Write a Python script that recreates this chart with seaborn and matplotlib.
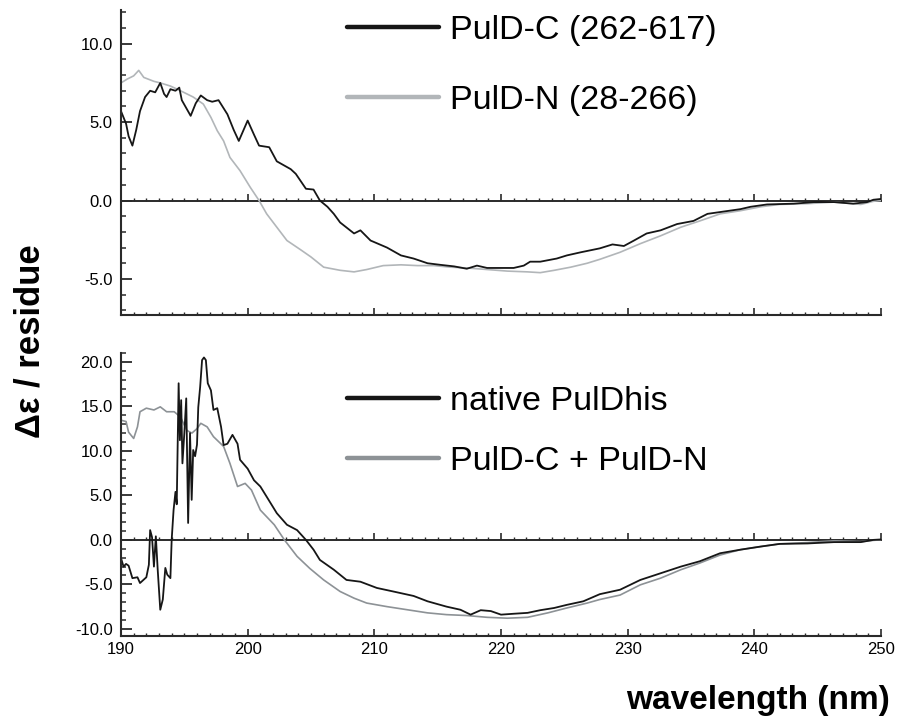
import numpy as np
import pandas as pd
import matplotlib
matplotlib.use("Agg")
import matplotlib.pyplot as plt
from matplotlib.lines import Line2D
from matplotlib.ticker import MultipleLocator, FormatStrFormatter
import seaborn as sns

# ---- CD spectra (delta epsilon per residue vs wavelength, nm) ----
# PulD-C (262-617)
wl_c = [190.0, 190.2, 190.4, 190.6, 190.9, 191.2, 191.5, 191.9, 192.3, 192.7, 193.1, 193.4, 193.6,
        193.9, 194.3, 194.6, 194.8, 195.5, 195.9, 196.3, 196.8, 197.2, 197.7, 198.4, 198.9, 199.3,
        200.0, 200.5, 200.9, 201.7, 202.3, 203.4, 203.8, 204.6, 205.2, 205.7, 206.3, 206.8, 207.3,
        208.4, 208.9, 209.7, 211.0, 212.1, 213.1, 214.2, 215.2, 216.3, 217.3, 218.1, 218.9, 220.0,
        221.0, 221.8, 222.3, 223.1, 224.4, 225.2, 226.3, 227.8, 228.8, 229.7, 230.5, 231.5, 232.6,
        233.9, 235.2, 236.3, 237.6, 238.9, 239.7, 241.0, 243.1, 244.7, 246.3, 247.8, 248.9, 249.4, 250.0]
de_c = [5.7, 5.3, 4.9, 4.1, 3.5, 4.5, 5.7, 6.6, 7.0, 6.9, 7.5, 6.8, 6.6,
        7.1, 7.0, 7.2, 6.4, 5.4, 6.2, 6.7, 6.4, 6.3, 6.4, 5.5, 4.5, 3.8,
        5.1, 4.2, 3.5, 3.4, 2.5, 2.0, 1.7, 0.75, 0.7, 0.0, -0.4, -0.85, -1.4,
        -2.1, -1.9, -2.55, -3.0, -3.5, -3.7, -4.0, -4.1, -4.2, -4.35, -4.15, -4.3, -4.3,
        -4.3, -4.15, -3.9, -3.9, -3.7, -3.5, -3.3, -3.05, -2.8, -2.9, -2.55, -2.1, -1.9,
        -1.5, -1.3, -0.85, -0.7, -0.55, -0.4, -0.25, -0.2, -0.1, -0.1, -0.2, -0.1, 0.05, 0.1]

# PulD-N (28-266)
wl_n = [190.0, 190.5, 191.0, 191.4, 191.8, 192.6, 193.1, 193.9, 194.7, 195.7, 196.5, 197.1, 197.6,
        198.1, 198.6, 199.4, 200.2, 200.9, 201.5, 202.3, 203.1, 204.2, 205.0, 206.0, 207.3, 208.4,
        209.4, 210.7, 212.1, 213.4, 214.7, 216.0, 217.3, 218.9, 220.5, 222.1, 223.1, 224.2, 225.5,
        226.8, 227.8, 229.4, 231.0, 232.6, 234.2, 235.7, 237.3, 238.9, 240.5, 242.0, 244.2, 246.3,
        248.4, 249.4, 250.0]
de_n = [7.5, 7.75, 7.95, 8.3, 7.85, 7.6, 7.5, 7.3, 7.0, 6.6, 6.15, 5.3, 4.45,
        3.8, 2.75, 1.9, 0.85, 0.0, -0.85, -1.7, -2.55, -3.15, -3.6, -4.25, -4.45, -4.55,
        -4.4, -4.15, -4.1, -4.15, -4.15, -4.25, -4.3, -4.4, -4.5, -4.55, -4.6, -4.45, -4.25,
        -4.0, -3.75, -3.3, -2.75, -2.25, -1.7, -1.3, -0.85, -0.65, -0.4, -0.25, -0.2, -0.1,
        -0.25, -0.05, 0.0]

# native PulDhis
wl_h = [190.0, 190.2, 190.4, 190.6, 190.9, 191.3, 191.5, 192.0, 192.2, 192.3, 192.45, 192.6, 192.75,
        192.9, 193.1, 193.3, 193.5, 193.65, 193.9, 194.0, 194.15, 194.3, 194.4, 194.55, 194.65,
        194.75, 194.85, 195.0, 195.15, 195.3, 195.45, 195.58, 195.7, 195.85, 196.0, 196.1, 196.25,
        196.4, 196.55, 196.7, 196.85, 197.1, 197.3, 197.6, 197.9, 198.1, 198.4, 198.8, 199.2, 199.4,
        200.0, 200.5, 201.0, 201.5, 202.3, 203.1, 203.9, 204.6, 205.2, 205.7, 206.8, 207.8, 208.9,
        210.2, 211.5, 213.1, 214.2, 215.7, 216.8, 217.6, 218.4, 219.2, 220.0, 221.0, 222.1, 223.1,
        224.2, 225.2, 226.5, 227.8, 229.4, 231.0, 232.6, 234.2, 235.7, 237.3, 238.9, 240.5, 242.0,
        244.2, 246.3, 248.4, 249.4, 250.0]
de_h = [-2.05, -3.0, -2.7, -2.9, -4.3, -4.2, -4.85, -4.2, -2.8, 1.1, 0.3, -3.0, 0.4,
        -3.4, -7.85, -6.7, -3.15, -3.9, -4.3, 0.0, 3.35, 5.4, 4.0, 17.6, 11.2,
        15.7, 8.6, 12.0, 15.9, 1.9, 12.0, 4.5, 10.1, 9.4, 10.7, 14.9, 17.2,
        20.2, 20.5, 20.2, 17.6, 16.8, 14.6, 14.8, 12.7, 10.65, 10.8, 11.8, 10.8, 9.0,
        8.0, 6.7, 6.0, 4.85, 3.0, 1.7, 1.1, 0.0, -1.1, -2.25, -3.35, -4.5, -4.7,
        -5.4, -5.8, -6.3, -6.9, -7.5, -7.85, -8.4, -7.9, -8.0, -8.4, -8.3, -8.2, -7.9,
        -7.65, -7.3, -6.9, -6.1, -5.6, -4.5, -3.75, -3.0, -2.4, -1.5, -1.1, -0.75, -0.45,
        -0.4, -0.25, -0.25, 0.0, 0.05]

# PulD-C + PulD-N mixture
wl_m = [190.0, 190.4, 190.6, 191.0, 191.3, 191.5, 192.0, 192.6, 193.1, 193.6, 194.2, 194.7, 195.2,
        195.6, 196.0, 196.3, 196.8, 197.3, 198.1, 198.6, 199.2, 199.8, 200.3, 201.0, 202.1, 202.9,
        203.9, 204.9, 206.0, 207.3, 208.4, 209.4, 211.0, 212.6, 214.2, 215.7, 217.3, 218.9, 220.5,
        222.1, 223.7, 225.2, 226.8, 227.8, 229.4, 231.0, 232.6, 234.2, 235.7, 237.3, 238.9, 240.5,
        242.0, 244.2, 246.3, 248.4, 249.4, 250.0]
de_m = [13.45, 13.3, 12.1, 11.4, 12.7, 14.4, 14.8, 14.6, 14.95, 14.4, 14.4, 13.8, 12.3,
        12.0, 12.5, 13.1, 12.7, 11.6, 10.5, 8.6, 6.0, 6.35, 5.6, 3.35, 1.7, 0.0,
        -1.85, -3.2, -4.5, -5.8, -6.55, -7.1, -7.5, -7.85, -8.2, -8.4, -8.5, -8.7, -8.8,
        -8.7, -8.2, -7.65, -7.1, -6.7, -6.2, -5.05, -4.3, -3.35, -2.6, -1.7, -1.1, -0.75,
        -0.45, -0.3, -0.1, -0.2, -0.05, 0.0]

top_labels = ["PulD-C (262-617)", "PulD-N (28-266)"]
bottom_labels = ["native PulDhis", "PulD-C + PulD-N"]
x_ticks = [190, 200, 210, 220, 230, 240, 250]

top_df = pd.concat([
    pd.DataFrame({"wavelength": wl_c, "de": de_c, "sample": top_labels[0]}),
    pd.DataFrame({"wavelength": wl_n, "de": de_n, "sample": top_labels[1]}),
])
bottom_df = pd.concat([
    pd.DataFrame({"wavelength": wl_h, "de": de_h, "sample": bottom_labels[0]}),
    pd.DataFrame({"wavelength": wl_m, "de": de_m, "sample": bottom_labels[1]}),
])

sns.set_theme(style="ticks")
plt.rcParams["font.family"] = ["Liberation Sans", "DejaVu Sans"]
plt.rcParams["axes.unicode_minus"] = False
plt.rcParams["text.color"] = "black"
plt.rcParams["axes.labelcolor"] = "black"

W, H = 897, 722
fig = plt.figure(figsize=(W / 100, H / 100), dpi=100)
fig.patch.set_facecolor("white")


def px_axes(x0, y0, x1, y1):
    return fig.add_axes([x0 / W, 1 - y1 / H, (x1 - x0) / W, (y1 - y0) / H])


ax_top = px_axes(121, 10, 881, 315)
ax_bot = px_axes(121, 353, 881, 636)

panels = [
    (ax_top, top_df, top_labels, {top_labels[0]: "#161616", top_labels[1]: "#b2b6b9"},
     (-7.3, 12.15), [-5, 0, 5, 10]),
    (ax_bot, bottom_df, bottom_labels, {bottom_labels[0]: "#161616", bottom_labels[1]: "#8d9296"},
     (-10.8, 21.0), [-10, -5, 0, 5, 10, 15, 20]),
]

spine_col = "#2a2a2a"
for ax, df, labels, pal, ylim, yt in panels:
    ax.set_facecolor("white")
    # draw the lighter trace first so the dark one sits on top
    for lab in labels[::-1]:
        sub = df[df["sample"] == lab]
        sns.lineplot(data=sub, x="wavelength", y="de", ax=ax, color=pal[lab],
                     lw=1.3 if lab == labels[0] else 1.2, estimator=None, sort=False,
                     legend=False)
    ax.set_xlim(190, 250)
    ax.set_ylim(*ylim)
    ax.set_xlabel("")
    ax.set_ylabel("")
    for s in ["top", "right"]:
        ax.spines[s].set_visible(False)
    for s in ["left", "bottom"]:
        ax.spines[s].set_color(spine_col)
        ax.spines[s].set_linewidth(1.5)

    ax.set_yticks(yt)
    ax.yaxis.set_major_formatter(FormatStrFormatter("%.1f"))
    ax.yaxis.set_minor_locator(MultipleLocator(1))
    ax.set_xticks(x_ticks)
    ax.xaxis.set_minor_locator(MultipleLocator(1))
    ax.tick_params(axis="y", which="major", direction="in", length=8, width=1.3,
                   color=spine_col, labelsize=12, pad=6, labelcolor="black")
    ax.tick_params(axis="y", which="minor", direction="in", length=3.5, width=1.1,
                   color=spine_col)
    ax.tick_params(axis="x", which="major", direction="in", length=5, width=1.2,
                   color=spine_col, labelsize=12, pad=4, labelcolor="black")
    ax.tick_params(axis="x", which="minor", direction="in", length=2, width=1.0,
                   color=spine_col)

    # baseline at zero with its own wavelength ticks
    frac = (0 - ylim[0]) / (ylim[1] - ylim[0])
    zax = ax.secondary_xaxis(frac)
    zax.set_xticks(x_ticks)
    zax.xaxis.set_minor_locator(MultipleLocator(1))
    zax.spines["bottom"].set_color(spine_col)
    zax.spines["bottom"].set_linewidth(1.4)
    zax.tick_params(axis="x", which="major", direction="in", length=5, width=1.2,
                    color=spine_col, labelbottom=False)
    zax.tick_params(axis="x", which="minor", direction="in", length=2, width=1.0,
                    color=spine_col)

    handles = [Line2D([], [], color=pal[lab], lw=3.2) for lab in labels]
    spacing = 1.15 if ax is ax_top else 0.85
    top_y = 15 if ax is ax_top else 386
    ax.legend(handles, labels, loc="upper left", frameon=False, fontsize=24.5,
              handlelength=2.7, handletextpad=0.32, labelspacing=spacing,
              borderpad=0, borderaxespad=0, labelcolor="black",
              bbox_to_anchor=(347 / W, 1 - top_y / H), bbox_transform=fig.transFigure)

ax_top.tick_params(axis="x", which="both", labelbottom=False)

fig.text(30 / W, 1 - 341 / H, "Δε / residue", rotation=90, ha="center", va="center",
         fontsize=25, fontweight="bold", color="black")
fig.text(890 / W, 1 - 700 / H, "wavelength (nm)", ha="right", va="center",
         fontsize=24, fontweight="bold", color="black")

fig.savefig("out.png", dpi=100, facecolor="white")
